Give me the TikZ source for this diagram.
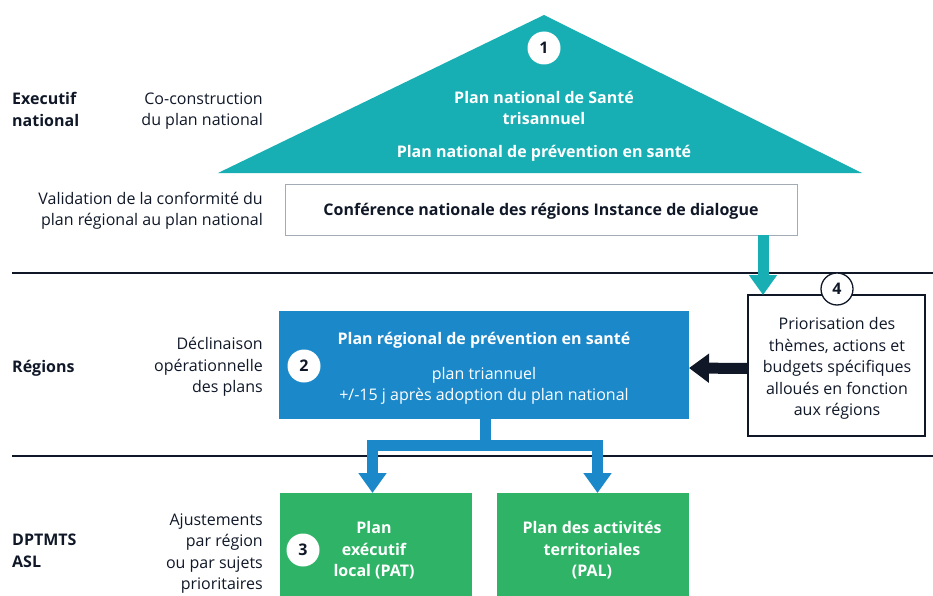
\documentclass[tikz,border=0pt]{standalone}
\usepackage{fontspec}
\setmainfont{Open Sans}
\usetikzlibrary{arrows.meta,calc}
\definecolor{tealc}{HTML}{17AFB3}
\definecolor{bluec}{HTML}{1B88C9}
\definecolor{greenc}{HTML}{2FB467}
\definecolor{inkc}{HTML}{101828}
\definecolor{greyc}{HTML}{A3ABB4}
\begin{document}
\begin{tikzpicture}[x=1pt,y=-1pt,
  font=\fontsize{16}{21.5}\selectfont, text=inkc,
  lbl/.style={inner sep=0pt},
  side/.style={lbl, anchor=east, align=right},
  level/.style={lbl, anchor=west, align=left, font=\fontsize{16}{21.5}\selectfont\bfseries},
  wtxt/.style={lbl, align=center, text=white, font=\fontsize{16}{21.5}\selectfont\bfseries},
  box/.style={minimum width=#1, inner sep=0pt, outer sep=0pt},
  num/.style={circle, fill=white, minimum size=33pt, inner sep=0pt, font=\fontsize{16}{16}\selectfont\bfseries},
  rule/.style={draw=inkc, line width=1.3pt},
  fat/.style={line width=11pt, line join=miter}
]
\useasboundingbox (0,0) rectangle (933,596);

% separators between the three levels
\draw[rule] (12,273) -- (933,273);
\draw[rule] (12,456) -- (933,456);

% national level: the roof
\fill[tealc] (544,15) -- (862,173) -- (218,173) -- cycle;
\node[num] (n1) at (544,48) {1};
\node[wtxt] (pns) at (544,108) {Plan national de Santé\\trisannuel};
\node[wtxt] (pnp) at (544,153) {Plan national de prévention en santé};

\node[box=512pt, minimum height=51pt, draw=greyc, line width=1pt, fill=white] (conf) at (541,209.5) {};
\node[lbl, font=\fontsize{16}{21.5}\selectfont\bfseries] (conft) at (541,211)
      {Conférence nationale des régions Instance de dialogue};

% regional level
\node[box=410pt, minimum height=108pt, fill=bluec] (blue) at (484,365) {};
\node[wtxt] (prt) at (484,340) {Plan régional de prévention en santé};
\node[lbl, align=center, text=white] (prd) at (484,386) {plan triannuel\\+/-15 j après adoption du plan national};
\node[num] (n2) at (304,366) {2};

\node[box=177pt, minimum height=141pt, draw=inkc, line width=1.3pt, fill=white] (prio) at (836.5,365.5) {};
\node[lbl, align=center] (priot) at (837,368.5)
      {Priorisation des\\thèmes, actions et\\budgets spécifiques\\alloués en fonction\\aux régions};
\node[num, draw=inkc, line width=1.3pt, minimum size=32pt] (n4) at (837,289) {4};

% local level
\node[box=192pt, minimum height=103pt, fill=greenc] (pat) at (376,544.5) {};
\node[box=192pt, minimum height=103pt, fill=greenc] (pal) at (593,544.5) {};
\node[wtxt] (patt) at (374,550.5) {Plan\\exécutif\\local (PAT)};
\node[wtxt] (palt) at (592,550.5) {Plan des activités\\territoriales\\(PAL)};
\node[num] (n3) at (303,550) {3};

% connectors
\draw[tealc, fat, -{Triangle[width=27pt,length=20pt]}]
  ($(conf.south east)+(-34,0)$) -- ($(prio.north west)+(15,0)$);
\draw[inkc, fat, -{Triangle[width=28pt,length=20pt]}]
  ($(prio.west)+(0,3)$) -- ($(blue.east)+(0,3)$);
\coordinate (fork) at (485.5,445.5);
\draw[bluec, fat, -{Triangle[width=27pt,length=20pt]}]
  (blue.south -| fork) -- (fork) -| ([xshift=-3.5pt]pat.north);
\draw[bluec, fat, -{Triangle[width=27pt,length=20pt]}]
  (blue.south -| fork) -- (fork) -| ([xshift=4.5pt]pal.north);

% left-hand labels
\node[level] (l1) at (12,109.5) {Executif\\national};
\node[level] (l2) at (12,368.5) {Régions};
\node[level] (l3) at (12,551) {DPTMTS\\ASL};
\node[side] (s1) at (263,111) {Co-construction\\du plan national};
\node[side] (s2) at (263,211) {Validation de la conformité du\\plan régional au plan national};
\node[side] (s3) at (263,367) {Déclinaison\\opérationnelle\\des plans};
\node[side] (s4) at (263,553.5) {Ajustements\\par région\\ou par sujets\\prioritaires};
\end{tikzpicture}
\end{document}
